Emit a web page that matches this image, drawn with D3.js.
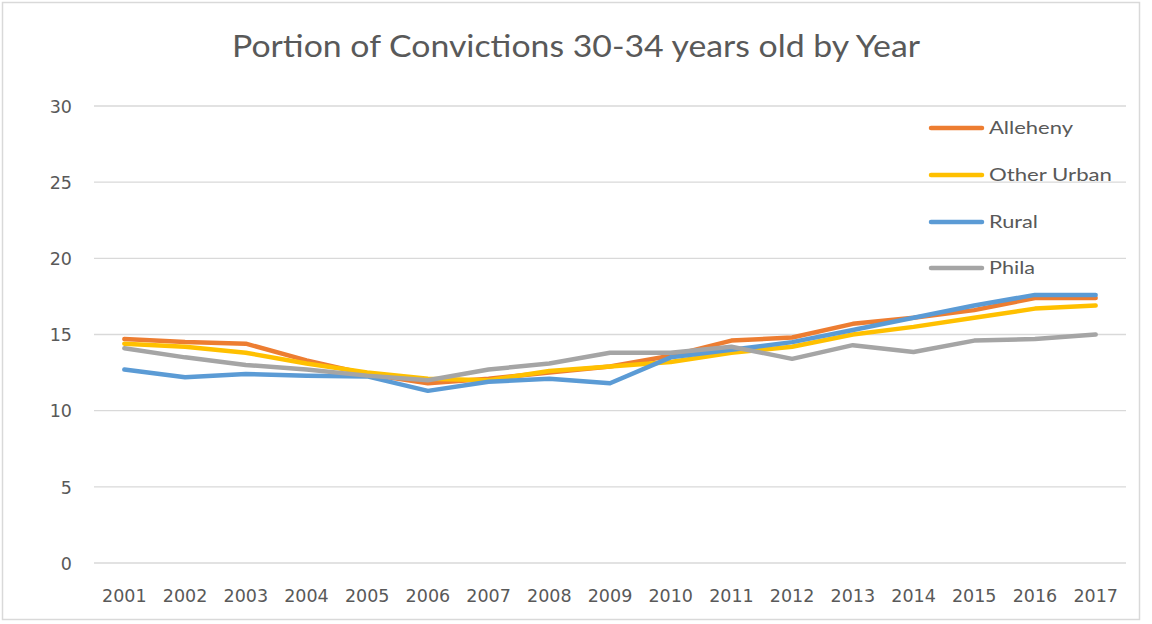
<!DOCTYPE html>
<html>
<head>
<meta charset="utf-8">
<script src="https://cdn.jsdelivr.net/npm/d3@7"></script>
<style>
  html, body { margin: 0; padding: 0; background: #fff; }
  svg { display: block; }
  text { font-family: "DejaVu Sans", sans-serif; fill: #595959; }
</style>
</head>
<body>
<svg id="chart" width="1152" height="624"></svg>
<script>
const title = "Portion of Convictions 30-34 years old by Year";
const years = ["2001","2002","2003","2004","2005","2006","2007","2008","2009","2010","2011","2012","2013","2014","2015","2016","2017"];
const yTicks = [0, 5, 10, 15, 20, 25, 30];
const seriesNames = ["Alleheny", "Other Urban", "Rural", "Phila"];
const seriesColors = ["#ED7D31", "#FFC000", "#5B9BD5", "#A5A5A5"];
const alleheny   = [14.7, 14.5, 14.4, 13.3, 12.4, 11.8, 12.1, 12.5, 12.9, 13.6, 14.6, 14.8, 15.7, 16.1, 16.6, 17.4, 17.4];
const otherUrban = [14.4, 14.2, 13.8, 13.1, 12.5, 12.1, 12.0, 12.6, 12.9, 13.2, 13.8, 14.2, 15.0, 15.5, 16.1, 16.7, 16.9];
const rural      = [12.7, 12.2, 12.4, 12.3, 12.25, 11.3, 11.9, 12.1, 11.8, 13.5, 14.0, 14.5, 15.3, 16.1, 16.9, 17.6, 17.6];
const phila      = [14.1, 13.5, 13.0, 12.7, 12.3, 12.0, 12.7, 13.1, 13.8, 13.8, 14.2, 13.4, 14.3, 13.85, 14.6, 14.7, 15.0];
const seriesValues = [alleheny, otherUrban, rural, phila];

const svg = d3.select("#chart");

// outer border
svg.append("rect")
  .attr("x", 2.5).attr("y", 2.5).attr("width", 1137).attr("height", 617)
  .attr("fill", "#fff").attr("stroke", "#d9d9d9").attr("stroke-width", 1.5);

const x = d3.scaleBand().domain(years).range([94, 1126]);
const y = d3.scaleLinear().domain([0, 30]).range([563, 106]);

// gridlines
svg.append("g").selectAll("line").data(yTicks).join("line")
  .attr("x1", 94).attr("x2", 1126)
  .attr("y1", d => y(d)).attr("y2", d => y(d))
  .attr("stroke", "#d9d9d9").attr("stroke-width", 1.3);

// y axis labels
const yAxis = d3.axisLeft(y).tickValues(yTicks).tickSize(0).tickPadding(0);
const gy = svg.append("g").attr("transform", "translate(72,0)").call(yAxis);
gy.select(".domain").remove();
gy.selectAll("text").attr("font-size", 17.5).attr("fill", "#666")
  .style("font-family", "'DejaVu Sans', sans-serif").attr("dy", "0.36em");

// x axis labels
const xAxis = d3.axisBottom(x).tickSize(0).tickPadding(0);
const gx = svg.append("g").attr("transform", "translate(0,590)").call(xAxis);
gx.select(".domain").remove();
gx.selectAll("text").attr("font-size", 17.5).attr("fill", "#666")
  .style("font-family", "'DejaVu Sans', sans-serif").attr("dy", "0.71em");

// title
svg.append("text")
  .attr("x", 576).attr("y", 57)
  .attr("text-anchor", "middle")
  .attr("font-size", 30.5)
  .attr("textLength", 688)
  .attr("lengthAdjust", "spacingAndGlyphs")
  .style("font-family", "Lato, sans-serif")
  .text(title);

// lines
const line = d3.line()
  .x((d, i) => x(years[i]) + x.bandwidth() / 2)
  .y(d => y(d));

seriesValues.forEach((vals, k) => {
  svg.append("path")
    .datum(vals)
    .attr("d", line)
    .attr("fill", "none")
    .attr("stroke", seriesColors[k])
    .attr("stroke-width", 4.5)
    .attr("stroke-linejoin", "round")
    .attr("stroke-linecap", "round");
});

// legend
const legendY = [128, 175, 222, 268];
const legendW = [84, 123, 49, 46];
const lg = svg.append("g");
seriesNames.forEach((name, k) => {
  lg.append("line")
    .attr("x1", 931).attr("x2", 982)
    .attr("y1", legendY[k]).attr("y2", legendY[k])
    .attr("stroke", seriesColors[k]).attr("stroke-width", 4.5)
    .attr("stroke-linecap", "round");
  lg.append("text")
    .attr("x", 989).attr("y", legendY[k])
    .attr("dy", "0.36em")
    .attr("font-size", 16.5)
    .attr("textLength", legendW[k])
    .attr("lengthAdjust", "spacingAndGlyphs")
    .style("font-family", "Lato, sans-serif")
    .text(name);
});
</script>
</body>
</html>
